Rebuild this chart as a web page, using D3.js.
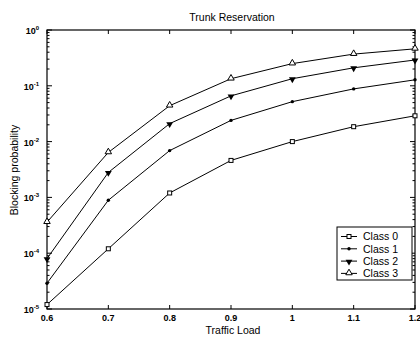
<!DOCTYPE html>
<html>
<head>
<meta charset="utf-8">
<script src="https://cdn.jsdelivr.net/npm/d3@7"></script>
<style>
body { margin: 0; background: #fff; }
text { font-family: "Liberation Sans", Arial, sans-serif; }
</style>
</head>
<body>
<svg id="main_svg" width="420" height="340"></svg>
<script>
// traffic load values
let loads = [0.6, 0.7, 0.8, 0.9, 1.0, 1.1, 1.2];
let class0 = [1.2e-5, 1.2e-4, 1.2e-3, 4.6e-3, 1.0e-2, 1.85e-2, 2.9e-2];
let class1 = [2.9e-5, 8.9e-4, 6.9e-3, 2.4e-2, 5.2e-2, 8.8e-2, 0.128];
let class2 = [8.0e-5, 2.8e-3, 2.1e-2, 6.6e-2, 0.134, 0.21, 0.29];
let class3 = [3.6e-4, 6.4e-3, 4.4e-2, 0.134, 0.25, 0.37, 0.46];
let seriesNames = ["Class 0", "Class 1", "Class 2", "Class 3"];
let xTicks = [0.6, 0.7, 0.8, 0.9, 1, 1.1, 1.2];
let xTickLabels = ["0.6", "0.7", "0.8", "0.9", "1", "1.1", "1.2"];
let yExps = [0, -1, -2, -3, -4, -5];

let svg = d3.select("#main_svg");
let pLeft = 47, pRight = 415, pTop = 30, pBottom = 309;

let x = d3.scaleLinear().domain([0.6, 1.2]).range([pLeft, pRight]);
let y = d3.scaleLog().domain([1e-5, 1]).range([pBottom, pTop]);

// frame
svg.append("rect")
   .attr("x", pLeft).attr("y", pTop)
   .attr("width", pRight - pLeft).attr("height", pBottom - pTop)
   .attr("fill", "none").attr("stroke", "#000").attr("stroke-width", 1.2);

// x ticks (bottom and top, inward)
let g = svg.append("g").attr("stroke", "#000").attr("stroke-width", 1);
xTicks.forEach(function (t) {
    g.append("line").attr("x1", x(t)).attr("x2", x(t)).attr("y1", pBottom).attr("y2", pBottom - 4);
    g.append("line").attr("x1", x(t)).attr("x2", x(t)).attr("y1", pTop).attr("y2", pTop + 4);
});

// y ticks, major and minor
for (let e = -5; e <= 0; e++) {
    let v = Math.pow(10, e);
    g.append("line").attr("x1", pLeft).attr("x2", pLeft + 5).attr("y1", y(v)).attr("y2", y(v));
    g.append("line").attr("x1", pRight).attr("x2", pRight - 5).attr("y1", y(v)).attr("y2", y(v));
    if (e < 0) {
        for (let m = 2; m <= 9; m++) {
            g.append("line").attr("x1", pLeft).attr("x2", pLeft + 2.5).attr("y1", y(m * v)).attr("y2", y(m * v));
            g.append("line").attr("x1", pRight).attr("x2", pRight - 2.5).attr("y1", y(m * v)).attr("y2", y(m * v));
        }
    }
}

// x tick labels
xTicks.forEach(function (t, i) {
    svg.append("text")
       .attr("x", x(t)).attr("y", pBottom + 12)
       .attr("text-anchor", "middle")
       .attr("font-size", 9).attr("font-weight", "bold")
       .text(xTickLabels[i]);
});

// y tick labels
yExps.forEach(function (e) {
    let t = svg.append("text")
       .attr("x", pLeft - 8).attr("y", y(Math.pow(10, e)) + 4)
       .attr("text-anchor", "end")
       .attr("font-size", 9).attr("font-weight", "bold");
    t.append("tspan").text("10");
    t.append("tspan").attr("dy", -4).attr("font-size", 6).text(e);
});

svg.append("text")
   .attr("x", 232).attr("y", 21)
   .attr("text-anchor", "middle").attr("font-size", 10.5)
   .text("Trunk Reservation");

svg.append("text")
   .attr("x", 233).attr("y", 334)
   .attr("text-anchor", "middle").attr("font-size", 10.5)
   .text("Traffic Load");

svg.append("text")
   .attr("transform", "translate(18,170) rotate(-90)")
   .attr("text-anchor", "middle").attr("font-size", 10.5)
   .text("Blocking probability");

let allSeries = [class0, class1, class2, class3];
let line = d3.line().x(function (d, i) { return x(loads[i]); }).y(function (d) { return y(d); });

function drawMarker(sel, k, cx, cy) {
    if (k === 0) {
        sel.append("rect").attr("x", cx - 2).attr("y", cy - 2).attr("width", 4).attr("height", 4)
           .attr("fill", "#fff").attr("stroke", "#000").attr("stroke-width", 1);
    } else if (k === 1) {
        sel.append("circle").attr("cx", cx).attr("cy", cy).attr("r", 1.7).attr("fill", "#000");
    } else if (k === 2) {
        sel.append("path").attr("d", d3.symbol().type(d3.symbolTriangle).size(20))
           .attr("transform", "translate(" + cx + "," + (cy + 0.5) + ") rotate(180)")
           .attr("fill", "#000");
    } else {
        sel.append("path").attr("d", d3.symbol().type(d3.symbolTriangle).size(18))
           .attr("transform", "translate(" + cx + "," + (cy - 0.5) + ")")
           .attr("fill", "#fff").attr("stroke", "#000").attr("stroke-width", 1);
    }
}

allSeries.forEach(function (s, k) {
    svg.append("path").datum(s).attr("d", line)
       .attr("fill", "none").attr("stroke", "#000").attr("stroke-width", 1);
    let mg = svg.append("g");
    s.forEach(function (d, i) { drawMarker(mg, k, x(loads[i]), y(d)); });
});

// legend
let lg = svg.append("g");
lg.append("rect").attr("x", 337).attr("y", 227).attr("width", 75).attr("height", 53)
  .attr("fill", "#fff").attr("stroke", "#000").attr("stroke-width", 1);
seriesNames.forEach(function (name, k) {
    let ly = 236.5 + k * 12.3;
    lg.append("line").attr("x1", 341).attr("x2", 357).attr("y1", ly).attr("y2", ly)
      .attr("stroke", "#000").attr("stroke-width", 1);
    drawMarker(lg, k, 349, ly);
    lg.append("text").attr("x", 363).attr("y", ly + 3.8).attr("font-size", 10.5).text(name);
});
</script>
</body>
</html>
